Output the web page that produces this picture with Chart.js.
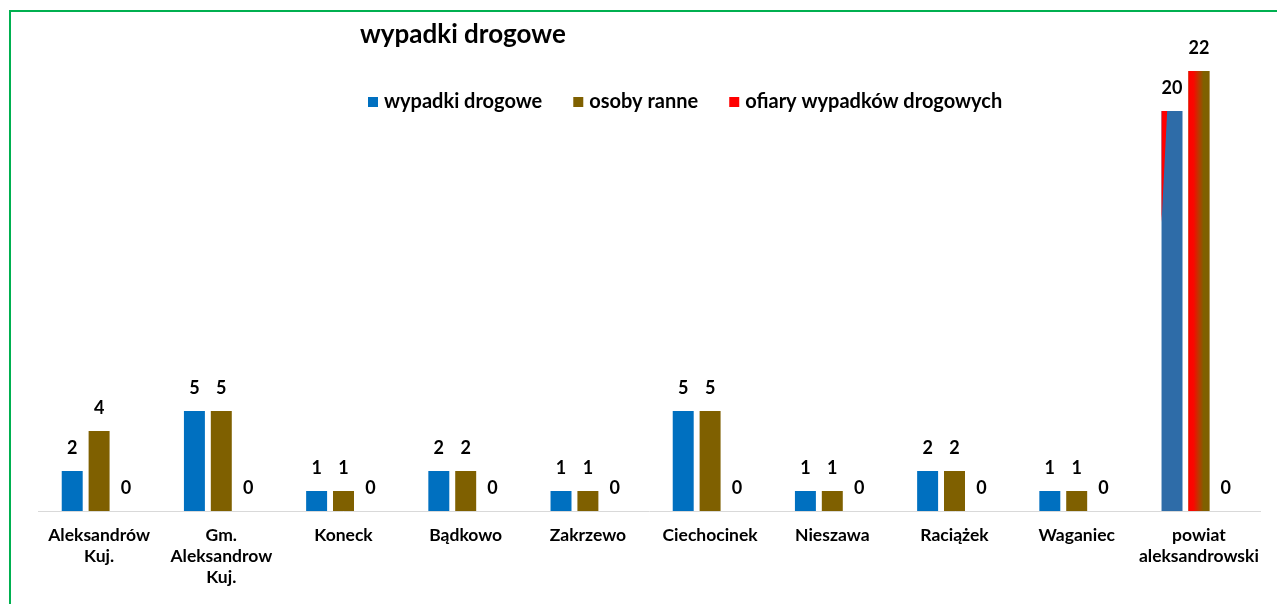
<!DOCTYPE html>
<html>
<head>
<meta charset="utf-8">
<script src="https://cdn.jsdelivr.net/npm/chart.js@4"></script>
<style>
html, body { margin: 0; padding: 0; background: #fff; overflow: hidden; }
#frame { position: absolute; left: 9px; top: 10px; width: 1400px; height: 700px; border: 2px solid #00b050; }
#wrap { position: absolute; left: 0; top: 0; width: 1277px; height: 604px; }
</style>
</head>
<body>
<div id="frame"></div>
<div id="wrap"><canvas id="chart" width="1277" height="604"></canvas></div>
<script>
const categories = [
    ['Aleksandrów', 'Kuj.'],
    ['Gm.', 'Aleksandrow', 'Kuj.'],
    'Koneck',
    'Bądkowo',
    'Zakrzewo',
    'Ciechocinek',
    'Nieszawa',
    'Raciążek',
    'Waganiec',
    ['powiat', 'aleksandrowski']
];
const accidents = [2, 5, 1, 2, 1, 5, 1, 2, 1, 20];
const injured = [4, 5, 1, 2, 1, 5, 1, 2, 1, 22];
const victims = [0, 0, 0, 0, 0, 0, 0, 0, 0, 0];
const seriesNames = ['wypadki drogowe', 'osoby ranne', 'ofiary wypadków drogowych'];
const chartTitle = 'wypadki drogowe';

const FONT = 'Lato, "Open Sans", sans-serif';
const BLUE = '#0070c0', BROWN = '#7f6000', RED = '#ff0000';

// the last group ("powiat") has the odd red gradient from the original sheet
const overlay = {
    id: 'overlay',
    afterDatasetsDraw(chart) {
        const c = chart.ctx;
        const last = accidents.length - 1;

        const b = chart.getDatasetMeta(0).data[last];
        let left = b.x - b.width / 2;
        let h = b.base - b.y;
        c.save();
        c.fillStyle = RED;
        c.beginPath();
        c.moveTo(left, b.y);
        c.lineTo(left + b.width * 0.27, b.y);
        c.lineTo(left, b.y + h * 0.28);
        c.closePath();
        c.fill();

        const o = chart.getDatasetMeta(1).data[last];
        left = o.x - o.width / 2;
        const g = c.createLinearGradient(left, 0, left + o.width, 0);
        g.addColorStop(0, RED);
        g.addColorStop(0.25, '#f80800');
        g.addColorStop(0.5, '#b83a00');
        g.addColorStop(0.72, BROWN);
        g.addColorStop(1, BROWN);
        c.fillStyle = g;
        c.fillRect(left, o.y, o.width, o.base - o.y);

        // value labels
        c.font = 'bold 18px ' + FONT;
        c.fillStyle = '#000';
        c.textAlign = 'center';
        c.textBaseline = 'middle';
        chart.data.datasets.forEach((ds, i) => {
            chart.getDatasetMeta(i).data.forEach((el, j) => {
                c.fillText(String(ds.data[j]), el.x, el.y - 23);
            });
        });
        c.restore();
    },
    afterDraw(chart) {
        const c = chart.ctx;
        c.save();
        c.fillStyle = '#000';
        c.textBaseline = 'middle';
        c.textAlign = 'left';
        c.font = 'bold 26px ' + FONT;
        c.fillText(chartTitle, 360, 35);

        // legend
        c.font = 'bold 20px ' + FONT;
        let x = 368;
        chart.data.datasets.forEach((ds) => {
            c.fillStyle = ds.legendColor;
            c.fillRect(x, 97, 10, 10);
            c.fillStyle = '#000';
            c.fillText(ds.label, x + 16, 102);
            x += 16 + c.measureText(ds.label).width + 31;
        });
        c.restore();
    }
};

const config = {
    type: 'bar',
    data: {
        labels: categories,
        datasets: [{
            label: seriesNames[0],
            data: accidents,
            backgroundColor: accidents.map((v, i) => i === accidents.length - 1 ? '#2e6ca8' : BLUE),
            legendColor: BLUE
        }, {
            label: seriesNames[1],
            data: injured,
            backgroundColor: BROWN,
            legendColor: BROWN
        }, {
            label: seriesNames[2],
            data: victims,
            backgroundColor: RED,
            legendColor: RED
        }]
    },
    options: {
        responsive: false,
        animation: false,
        devicePixelRatio: 1,
        layout: {
            padding: { left: 38, right: 17, top: 31, bottom: 0 }
        },
        datasets: {
            bar: { categoryPercentage: 0.66, barPercentage: 0.78 }
        },
        plugins: {
            legend: { display: false },
            title: { display: false },
            tooltip: { enabled: false }
        },
        scales: {
            x: {
                grid: { display: true, color: 'transparent', drawTicks: false },
                border: { display: true, color: '#d9d9d9', width: 1 },
                ticks: {
                    color: '#000',
                    font: { family: FONT, size: 17.5, weight: 'bold', lineHeight: 1.2 },
                    padding: 14,
                    maxRotation: 0,
                    autoSkip: false
                },
                afterFit: (scale) => { scale.height = 93; }
            },
            y: {
                display: false,
                min: 0,
                max: 24
            }
        }
    },
    plugins: [overlay]
};

window.onload = () => {
    let ctx = document.getElementById('chart').getContext('2d');
    window.myChart = new Chart(ctx, config);
};
</script>
</body>
</html>
